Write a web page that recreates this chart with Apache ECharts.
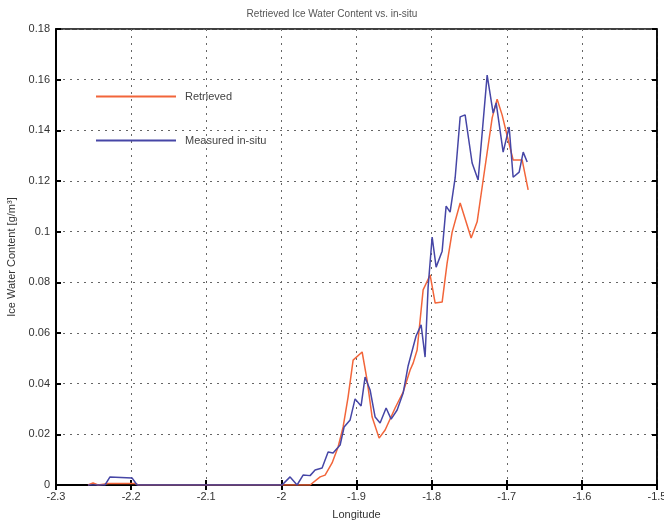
<!DOCTYPE html>
<html><head><meta charset="utf-8">
<script src="https://cdn.jsdelivr.net/npm/echarts@6/dist/echarts.min.js"></script>
<style>html,body{margin:0;padding:0;background:#fff}#c{width:664px;height:526px}</style>
</head><body><div id="c"></div>
<script>
var xTicks = [-2.3,-2.2,-2.1,-2.0,-1.9,-1.8,-1.7,-1.6,-1.5];
var yTicks = [0,0.02,0.04,0.06,0.08,0.1,0.12,0.14,0.16,0.18];

var retrievedLon = [-2.2574,-2.2507,-2.2441,-2.2300,-2.1950,-2.1900,-2.0000,-1.9618,-1.9484,-1.9418,-1.9325,-1.9245,-1.9178,-1.9112,-1.9045,-1.8925,-1.8859,-1.8792,-1.8699,-1.8619,-1.8486,-1.8379,-1.8286,-1.8246,-1.8193,-1.8113,-1.8020,-1.7953,-1.7860,-1.7794,-1.7727,-1.7620,-1.7474,-1.7394,-1.7314,-1.7194,-1.7128,-1.7061,-1.6981,-1.6915,-1.6835,-1.6795,-1.6715];
var retrievedIWC = [0,0.0008,0,0.0006,0.0006,0,0,0,0.0032,0.0039,0.0087,0.0150,0.0229,0.0347,0.0493,0.0525,0.0414,0.0268,0.0185,0.0217,0.0304,0.0367,0.0454,0.0481,0.0533,0.0770,0.0829,0.0718,0.0722,0.0876,0.0998,0.1113,0.0975,0.1039,0.1204,0.1449,0.1523,0.1460,0.1362,0.1283,0.1283,0.1283,0.1165];

var measuredLon = [-2.2574,-2.2348,-2.2281,-2.1988,-2.1921,-1.9991,-1.9884,-1.9791,-1.9711,-1.9618,-1.9551,-1.9458,-1.9378,-1.9312,-1.9218,-1.9165,-1.9085,-1.9019,-1.8939,-1.8886,-1.8819,-1.8752,-1.8686,-1.8606,-1.8539,-1.8459,-1.8379,-1.8313,-1.8246,-1.8207,-1.8140,-1.8087,-1.8047,-1.7993,-1.7940,-1.7860,-1.7807,-1.7754,-1.7687,-1.7620,-1.7554,-1.7461,-1.7381,-1.7261,-1.7181,-1.7141,-1.7048,-1.6968,-1.6915,-1.6835,-1.6781,-1.6728];
var measuredIWC = [0,0,0.0032,0.0028,0,0,0.0032,0,0.0039,0.0037,0.0059,0.0067,0.0130,0.0126,0.0158,0.0229,0.0257,0.0340,0.0312,0.0426,0.0375,0.0268,0.0245,0.0304,0.0260,0.0296,0.0363,0.0470,0.0545,0.0588,0.0632,0.0505,0.0780,0.0979,0.0860,0.0923,0.1101,0.1077,0.1212,0.1453,0.1461,0.1271,0.1204,0.1618,0.1468,0.1508,0.1314,0.1413,0.1215,0.1235,0.1314,0.1275];

function pairs(xs, ys){ return xs.map(function(x,i){ return [x, ys[i]]; }); }

var font = 'Liberation Sans, Arial, sans-serif';
var lblColor = '#333';
var chart = echarts.init(document.getElementById('c'), null, {renderer:'canvas'});
var tickStyle = {show:true, inside:true, length:5, lineStyle:{color:'#000', width:2}};
var split = {show:true, lineStyle:{color:'#666', width:1, type:[2,5]}};
chart.setOption({
  animation:false,
  backgroundColor:'#fff',
  title:{text:'Retrieved Ice Water Content vs. in-situ', left:'center', top:4,
    textStyle:{fontFamily:font, fontSize:10, fontWeight:'normal', color:'#555'}},
  legend:{orient:'vertical', left:91, top:86, itemWidth:80, itemHeight:2, itemGap:33, icon:'rect',
    textStyle:{fontFamily:font, fontSize:11, color:'#444', padding:[0,0,0,4]},
    data:['Retrieved','Measured in-situ']},
  grid:{left:56, right:7, top:29, bottom:41, show:true, borderColor:'#000', borderWidth:1.5,
    outerBoundsMode:'none', containLabel:false},
  xAxis:[{type:'value', min:xTicks[0], max:xTicks[xTicks.length-1], interval:0.1,
    name:'Longitude', nameLocation:'middle', nameGap:24,
    nameTextStyle:{fontFamily:font, fontSize:11, color:lblColor},
    axisLine:{show:true, lineStyle:{color:'#000', width:2}},
    axisTick:tickStyle,
    axisLabel:{fontFamily:font, fontSize:11, color:lblColor, margin:6,
      formatter:function(v){return String(Math.round(v*10)/10);}},
    splitLine:split},
   {type:'value', position:'top', min:xTicks[0], max:xTicks[xTicks.length-1], interval:0.1,
    axisLine:{show:true, lineStyle:{color:'#000', width:1.5}}, axisTick:tickStyle,
    axisLabel:{show:false}, splitLine:{show:false}}],
  yAxis:[{type:'value', min:0, max:0.18, interval:0.02,
    name:'Ice Water Content [g/m\u00b3]', nameLocation:'middle', nameGap:39,
    nameTextStyle:{fontFamily:font, fontSize:11, color:lblColor},
    axisLine:{show:true, lineStyle:{color:'#000', width:2}},
    axisTick:tickStyle,
    axisLabel:{fontFamily:font, fontSize:11, color:lblColor, margin:6,
      formatter:function(v){return String(Math.round(v*100)/100);}},
    splitLine:split},
   {type:'value', position:'right', min:0, max:0.18, interval:0.02,
    axisLine:{show:true, lineStyle:{color:'#000', width:1.5}}, axisTick:tickStyle,
    axisLabel:{show:false}, splitLine:{show:false}}],
  series:[
    {name:'Retrieved', type:'line', data:pairs(retrievedLon, retrievedIWC), showSymbol:false, symbol:'none',
      lineStyle:{color:'#f2653a', width:1.5}, itemStyle:{color:'#f2653a'}, z:3},
    {name:'Measured in-situ', type:'line', data:pairs(measuredLon, measuredIWC), showSymbol:false, symbol:'none',
      lineStyle:{color:'#4646a6', width:1.5}, itemStyle:{color:'#4646a6'}, z:4}
  ]
});
</script></body></html>
